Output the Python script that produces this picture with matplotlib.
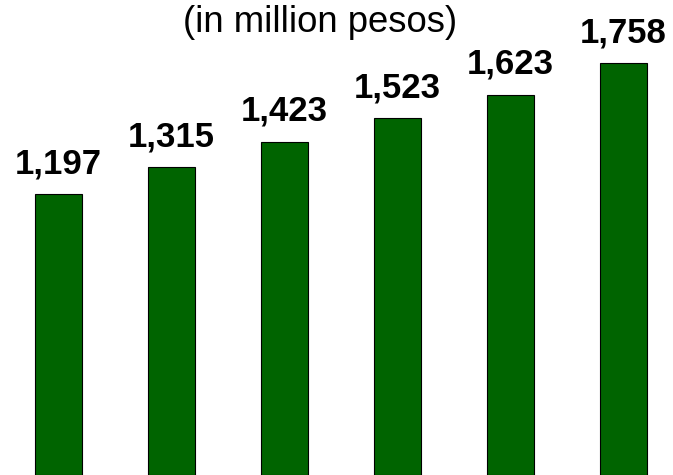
import matplotlib
matplotlib.use("Agg")
import matplotlib.pyplot as plt

# values
positions = [0, 1, 2, 3, 4, 5]
values = [1197, 1315, 1423, 1523, 1623, 1758]
value_labels = ["1,197", "1,315", "1,423", "1,523", "1,623", "1,758"]
subtitle = "(in million pesos)"

plt.rcParams["font.family"] = ["Liberation Sans", "DejaVu Sans"]

fig = plt.figure(figsize=(6.73, 4.75), dpi=100)
ax = fig.add_axes([0, 0, 1, 1])

ax.bar(positions, values, width=0.41, color="#006400",
       edgecolor="black", linewidth=0.8)

for x, v, lab in zip(positions, values, value_labels):
    ax.annotate(lab, (x, v), xytext=(0, 15), textcoords="offset points",
                ha="center", va="baseline", fontsize=25, fontweight="bold")

ax.set_xlim(-0.518, 5.438)
ax.set_ylim(0, 2027)
ax.axis("off")

fig.text(0.4755, 1 - 32 / 475, subtitle, ha="center", va="baseline",
         fontsize=26.3)

fig.savefig("out.png", dpi=100)
